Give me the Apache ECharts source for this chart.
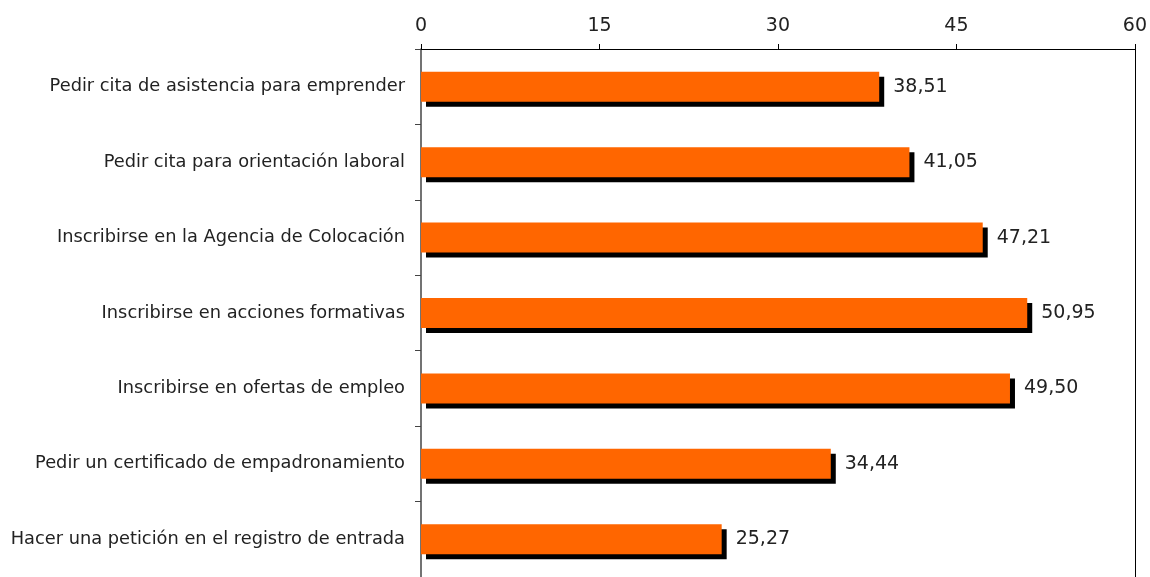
<!DOCTYPE html>
<html>
<head>
<meta charset="utf-8">
<script src="https://cdn.jsdelivr.net/npm/echarts@6/dist/echarts.min.js"></script>
<style>
  html, body { margin: 0; padding: 0; background: #fff; }
  #chart { width: 1150px; height: 577px; }
</style>
</head>
<body>
<div id="chart"></div>
<script>
// categories, top to bottom
var categories = [
  "Pedir cita de asistencia para emprender",
  "Pedir cita para orientación laboral",
  "Inscribirse en la Agencia de Colocación",
  "Inscribirse en acciones formativas",
  "Inscribirse en ofertas de empleo",
  "Pedir un certificado de empadronamiento",
  "Hacer una petición en el registro de entrada"
];
// values
var values = [38.51, 41.05, 47.21, 50.95, 49.50, 34.44, 25.27];
// x axis ticks
var xTicks = [0, 15, 30, 45, 60];

var chart = echarts.init(document.getElementById("chart"));
var font = "'DejaVu Sans', sans-serif";

chart.setOption({
  animation: false,
  grid: { left: 421, right: 14, top: 49, height: 537 },
  xAxis: {
    type: "value",
    position: "top",
    min: xTicks[0],
    max: xTicks[xTicks.length - 1],
    interval: 15,
    axisLine: { show: true, lineStyle: { color: "#000", width: 1 } },
    axisTick: { show: true, length: 5, lineStyle: { color: "#000" } },
    axisLabel: { color: "#222", fontSize: 19, fontFamily: font, margin: 13 },
    splitLine: { show: false }
  },
  yAxis: [
    {
      type: "category",
      data: categories,
      inverse: true,
      axisLine: { show: true, lineStyle: { color: "#444", width: 1.5 } },
      axisTick: { show: true, length: 6, lineStyle: { color: "#444" } },
      axisLabel: { color: "#222", fontSize: 17.8, fontFamily: font, margin: 16 }
    },
    {
      type: "category",
      position: "right",
      data: categories,
      inverse: true,
      axisLine: { show: true, lineStyle: { color: "#000", width: 1 } },
      axisTick: { show: false },
      axisLabel: { show: false }
    }
  ],
  series: [
    {
      type: "bar",
      data: values,
      barWidth: 30,
      itemStyle: {
        color: "#FF6600",
        shadowColor: "#000",
        shadowBlur: 0,
        shadowOffsetX: 5,
        shadowOffsetY: 5
      },
      label: {
        show: true,
        position: "right",
        distance: 14,
        color: "#222",
        fontSize: 19,
        fontFamily: font,
        formatter: function (p) { return p.value.toFixed(2).replace(".", ","); }
      }
    }
  ]
});
</script>
</body>
</html>
